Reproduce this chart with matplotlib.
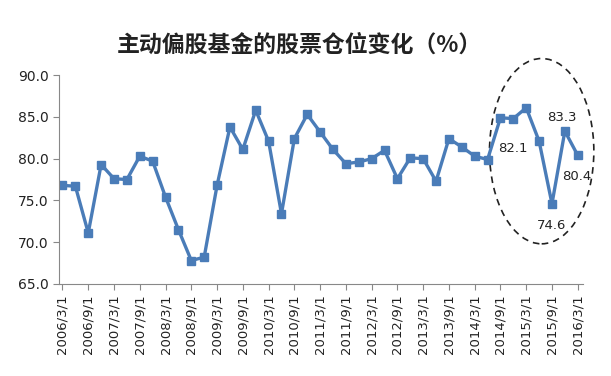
import matplotlib
matplotlib.use("Agg")
import matplotlib.pyplot as plt
from matplotlib.patches import Ellipse

plt.rcParams['font.family'] = ['Noto Sans CJK SC', 'DejaVu Sans']

# quarterly equity position of active equity-biased funds (%)
values = [76.8, 76.7, 71.1, 79.3, 77.6, 77.5, 80.3, 79.7, 75.4, 71.5,
          67.8, 68.2, 76.8, 83.8, 81.1, 85.8, 82.1, 73.4, 82.4, 85.3,
          83.2, 81.1, 79.4, 79.6, 80.0, 81.0, 77.6, 80.1, 80.0, 77.3,
          82.4, 81.4, 80.3, 79.9, 84.9, 84.8, 86.1, 82.1, 74.6, 83.3,
          80.4]
tick_labels = ['2006/3/1', '2006/9/1', '2007/3/1', '2007/9/1', '2008/3/1',
               '2008/9/1', '2009/3/1', '2009/9/1', '2010/3/1', '2010/9/1',
               '2011/3/1', '2011/9/1', '2012/3/1', '2012/9/1', '2013/3/1',
               '2013/9/1', '2014/3/1', '2014/9/1', '2015/3/1', '2015/9/1',
               '2016/3/1']
yticks = [65, 70, 75, 80, 85, 90]
# labelled points: (index, text offset in points)
notes = [(37, (-19, -5)), (38, (0, -16)), (39, (-2, 10)), (40, (-1, -15))]

x = list(range(len(values)))
color = '#4A7CB8'

fig = plt.figure(figsize=(6.11, 3.76), dpi=100)
ax = fig.add_axes([0.097, 0.245, 0.857, 0.555])

ax.plot(x, values, color=color, lw=2.4, marker='s', markersize=6,
        markerfacecolor=color, markeredgecolor=color)

for i, off in notes:
    ax.annotate('%.1f' % values[i], (x[i], values[i]), xytext=off,
                textcoords='offset points', ha='center', va='center',
                fontsize=9.5, color='#222222', family='DejaVu Sans')

ax.add_patch(Ellipse((37.2, 80.9), 8.1, 22.2, fill=False, ls=(0, (4, 3)),
                     lw=1.2, edgecolor='#222222', clip_on=False))

ax.set_xlim(-0.25, 40.4)
ax.set_ylim(65, 90)
ax.set_yticks(yticks)
ax.set_yticklabels(['%.1f' % v for v in yticks], family='DejaVu Sans',
                   fontsize=10, color='#222222')
ax.set_xticks(x[::2])
ax.set_xticklabels(tick_labels, rotation=90, family='DejaVu Sans',
                   fontsize=9.5, color='#222222')

for s in ['top', 'right']:
    ax.spines[s].set_visible(False)
for s in ['left', 'bottom']:
    ax.spines[s].set_color('#888888')
ax.tick_params(color='#888888', length=4)

fig.text(0.49, 0.88, '主动偏股基金的股票仓位变化（%）', ha='center', va='center',
         fontsize=16.5, fontweight='bold', color='#222222')

fig.savefig('out.png', dpi=100)
